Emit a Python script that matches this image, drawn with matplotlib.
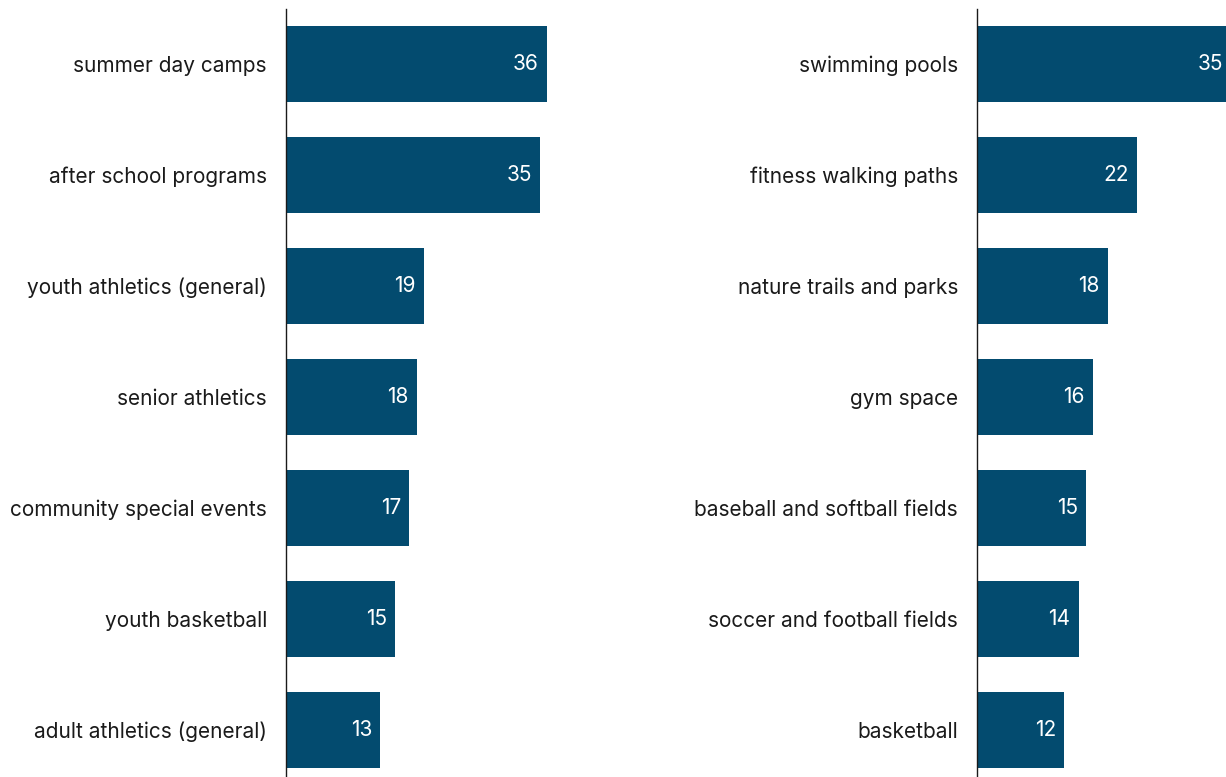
import matplotlib
matplotlib.use("Agg")
from matplotlib import pyplot as plt

plt.rcParams['font.family'] = ['Inter', 'DejaVu Sans']

# Левая панель: программы
programs = ["summer day camps", "after school programs", "youth athletics (general)",
            "senior athletics", "community special events", "youth basketball",
            "adult athletics (general)"]
program_vals = [36, 35, 19, 18, 17, 15, 13]

# Правая панель: объекты
facilities = ["swimming pools", "fitness walking paths", "nature trails and parks",
              "gym space", "baseball and softball fields", "soccer and football fields",
              "basketball"]
facility_vals = [35, 22, 18, 16, 15, 14, 12]

BAR_COLOR = "#034b6f"
W, H = 1226, 777
PX_PER_UNIT = 7.25
TOP, BOTTOM = 9, 777
STEP = 111
FIRST_CENTER = 64

fig = plt.figure(figsize=(W / 100, H / 100), dpi=100)


def panel(x0, x1, labels, vals):
    ax = fig.add_axes([x0 / W, 1 - BOTTOM / H, (x1 - x0) / W, (BOTTOM - TOP) / H])
    y = list(range(len(vals)))
    ax.barh(y, vals, height=76 / STEP, color=BAR_COLOR)
    ax.set_xlim(0, (x1 - x0) / PX_PER_UNIT)
    ax.set_ylim((BOTTOM - FIRST_CENTER) / STEP, -(FIRST_CENTER - TOP) / STEP)
    ax.set_yticks(y)
    ax.set_yticklabels(labels, fontsize=15, color="#1a1a1a")
    ax.tick_params(axis='y', length=0, pad=13.7)
    ax.set_xticks([])
    for s in ["top", "right", "bottom"]:
        ax.spines[s].set_visible(False)
    ax.spines["left"].set_linewidth(1.0)
    ax.spines["left"].set_color("#1a1a1a")
    for yi, v in zip(y, vals):
        ax.text(v - 1.1, yi, str(v), ha="right", va="center", color="white",
                fontsize=15)
    return ax


panel(286, 560, programs, program_vals)
panel(977, 1226, facilities, facility_vals)

fig.savefig("out.png", dpi=100)
